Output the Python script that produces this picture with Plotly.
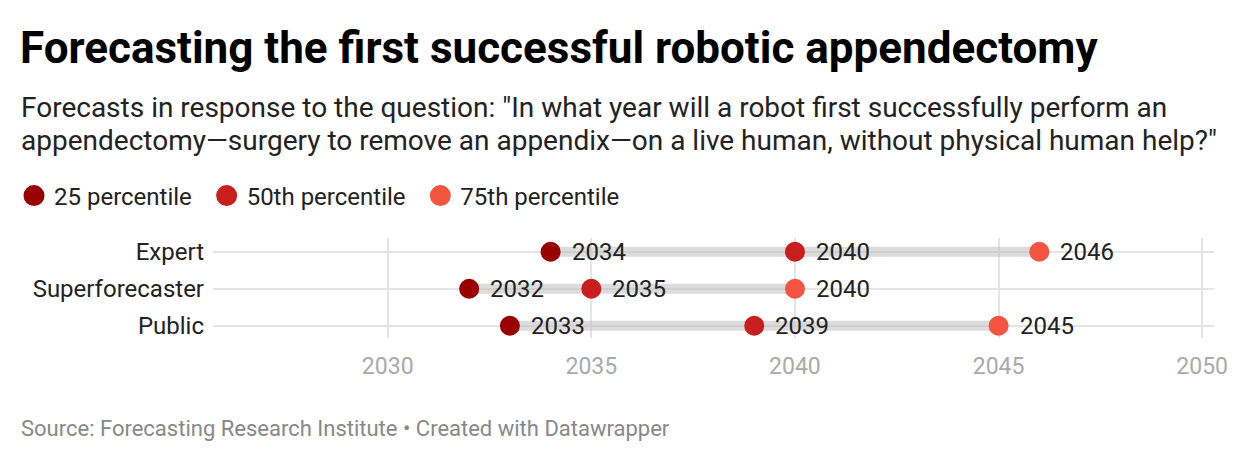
import plotly.graph_objects as go

categories = ["Expert", "Superforecaster", "Public"]
p25 = [2034, 2032, 2033]
p50 = [2040, 2035, 2039]
p75 = [2046, 2040, 2045]
series_names = ["25 percentile", "50th percentile", "75th percentile"]
series_colors = ["#990000", "#c91e1e", "#f55540"]
x_ticks = [2030, 2035, 2040, 2045, 2050]

FONT = "Roboto"
W, H = 1240, 462
ML, MR, MT, MB = 213, 24, 238, 124
PH = H - MT - MB
PW = W - ML - MR

def px_x(px):
    return (px - ML) / PW

def px_y(py):
    return (H - MB - py) / PH

rows = list(range(len(categories)))
fig = go.Figure()

# range bars (min to max)
bx, by = [], []
for i in rows:
    vals = [p25[i], p50[i], p75[i]]
    bx += [min(vals), max(vals), None]
    by += [i, i, None]
fig.add_trace(go.Scatter(x=bx, y=by, mode="lines",
                         line=dict(color="rgba(185,185,185,0.5)", width=10),
                         hoverinfo="skip", showlegend=False))

series = [p25, p50, p75]
for name, vals, col in zip(series_names, series, series_colors):
    fig.add_trace(go.Scatter(x=vals, y=rows, mode="markers",
                             marker=dict(size=20, color=col),
                             name=name, showlegend=False))
    # legend-only proxy with larger symbol
    fig.add_trace(go.Scatter(x=[None], y=[None], mode="markers",
                             marker=dict(size=16, color=col,
                                         line=dict(color=col, width=10)),
                             name=name + "\u2009\u2009", showlegend=True))
    for i in rows:
        fig.add_annotation(x=vals[i], y=i, text=str(vals[i]), showarrow=False,
                           xanchor="left", yanchor="middle", xshift=19,
                           font=dict(family=FONT, size=24, color="#222222"))

sub_lines = ['Forecasts in response to the question: "In what year will a robot first successfully perform an',
             'appendectomy\u2014surgery to remove an appendix\u2014on a live human, without physical human help?"']
for k, line in enumerate(sub_lines):
    fig.add_annotation(xref="paper", yref="paper", x=px_x(19), y=px_y(107 + 33 * k),
                       xanchor="left", yanchor="middle", align="left", showarrow=False,
                       text=line, font=dict(family=FONT, size=28, color="#222222"))
fig.add_annotation(xref="paper", yref="paper", x=px_x(19), y=px_y(428),
                   xanchor="left", yanchor="middle", showarrow=False,
                   text="Source: Forecasting Research Institute \u2022 Created with Datawrapper",
                   font=dict(family=FONT, size=22, color="#888888"))

fig.update_layout(
    width=W, height=H,
    margin=dict(l=ML, r=MR, t=MT, b=MB, pad=0),
    paper_bgcolor="white", plot_bgcolor="white",
    title=dict(text="<b>Forecasting the first successful robotic appendectomy</b>",
               xref="container", yref="container", x=20 / W, y=1 - 32 / H,
               xanchor="left", yanchor="top",
               font=dict(family=FONT, size=44, color="#000000")),
    legend=dict(orientation="h", xref="container", yref="container",
                x=14 / W, y=1 - 196 / H, xanchor="left", yanchor="middle",
                font=dict(family=FONT, size=24, color="#222222"),
                bgcolor="rgba(0,0,0,0)", itemclick=False),
    xaxis=dict(range=[2025.71, 2050.29], tickvals=x_ticks,
               showgrid=True, gridcolor="#e4e4e4", gridwidth=1.5,
               zeroline=False, showline=False, ticks="",
               tickfont=dict(family=FONT, size=23, color="#aaaaaa"),
               ticklabelstandoff=12),
    yaxis=dict(range=[2.33, -0.37], tickvals=rows, ticktext=categories,
               showgrid=True, gridcolor="#e4e4e4", gridwidth=1.5,
               zeroline=False, showline=False, ticks="",
               tickfont=dict(family=FONT, size=24, color="#222222"),
               ticklabelstandoff=8),
    showlegend=True,
)

fig.write_html("out.html", config={"displayModeBar": False},
               post_script="document.body.style.margin='0';")
